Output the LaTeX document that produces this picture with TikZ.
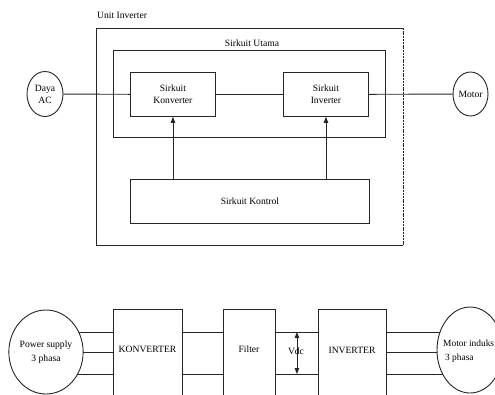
\documentclass[tikz,border=0pt]{standalone}
\usepackage{fontspec}
\setmainfont{Liberation Serif}
\usetikzlibrary{shapes.geometric,arrows.meta,backgrounds,calc}
\begin{document}
\begin{tikzpicture}[x=1bp,y=-1bp, font=\fontsize{9.6bp}{12.5bp}\selectfont,
  ln/.style={draw=black!85, line width=0.9bp},
  box/.style={ln, rectangle, inner sep=0pt, anchor=north west},
  ell/.style={ln, ellipse, inner sep=0pt, fill=white, align=center},
  arr/.style={ln, -{Triangle[length=6bp,width=4.5bp]}},
  dbl/.style={ln, {Triangle[length=6bp,width=4.5bp]}-{Triangle[length=6bp,width=4.5bp]}},
  txt/.style={inner sep=0pt, align=center}]
\useasboundingbox (0,0) rectangle (495,394);
\clip (0,0) rectangle (495,394);

% ---------- top diagram ----------
\node[rectangle, inner sep=0pt, anchor=north west, minimum width=307bp, minimum height=217bp] (unit) at (96,28) {};
\draw[ln] (unit.north east) -- (unit.north west) -- (unit.south west) -- (unit.south east);
\draw[draw=black!85, line width=0.8bp, dash pattern=on 2bp off 0.8bp] (unit.south east) -- (unit.north east);
\node[txt, anchor=west] (lblunit) at (97,15) {Unit Inverter};

\node[box, minimum width=272bp, minimum height=87bp] (utama) at (113,50) {};
\node[txt] (lblutama) at (252,43) {Sirkuit Utama};

\node[box, fill=white, minimum width=85bp, minimum height=44bp, align=center] (konv) at (130,72) {Sirkuit\\Konverter};
\node[box, fill=white, minimum width=85bp, minimum height=44bp, align=center] (inv) at (283,72) {Sirkuit\\Inverter};
\node[box, minimum width=239bp, minimum height=44bp] (ktrl) at (130,179) {Sirkuit Kontrol};

\node[ell, minimum width=36bp, minimum height=45bp, font=\fontsize{9.6bp}{12bp}\selectfont] (daya) at (45,94) {Daya\\AC};
\node[ell, minimum width=35bp, minimum height=44bp] (motor) at (470.5,94) {Motor};

\draw[ln] (daya) -- (konv);
\draw[ln] (konv) -- (inv);
\draw[ln] (inv) -- (motor);
\draw[arr] (ktrl.north -| konv.south) -- (konv.south);
\draw[arr] (ktrl.north -| inv.south) -- (inv.south);

% ---------- bottom diagram ----------
\coordinate (y1) at (0,332);
\coordinate (y2) at (0,352);
\coordinate (y3) at (0,374);

\node[ell, minimum width=68bp, minimum height=84bp, font=\fontsize{9.6bp}{14bp}\selectfont] (ps) at (46,352) {Power supply\\3 phasa};
\node[box, minimum width=69bp, minimum height=120bp] (kon) at (113,309) {};
\node[box, minimum width=52bp, minimum height=120bp] (filt) at (223,309) {};
\node[box, minimum width=68bp, minimum height=120bp] (invb) at (318,309) {};
\node[ell, minimum width=66bp, minimum height=86bp] (mi) at (470,350) {};

\node[txt] (konT) at (147.5,349) {KONVERTER};
\node[txt] (filtT) at (249,349) {Filter};
\node[txt] (invT) at (352,350) {INVERTER};
\node[txt, anchor=west, align=left, font=\fontsize{9.4bp}{14bp}\selectfont] (miT) at (443,351) {Motor induks\\\hspace*{2bp}3 phasa};

\begin{scope}[on background layer]
  \draw[ln] (ps.center |- y1) -- (kon.west |- y1);
  \draw[ln] (ps.center |- y2) -- (kon.west |- y2);
  \draw[ln] (ps.center |- y3) -- (kon.west |- y3);
  \draw[ln] (invb.east |- y1) -- (mi.center |- y1);
  \draw[ln] (invb.east |- y2) -- (mi.center |- y2);
  \draw[ln] (invb.east |- y3) -- (mi.center |- y3);
\end{scope}
\draw[ln] (kon.east |- y1) -- (filt.west |- y1);
\draw[ln] (kon.east |- y3) -- (filt.west |- y3);
\draw[ln] (filt.east |- y1) -- (invb.west |- y1);
\draw[ln] (filt.east |- y3) -- (invb.west |- y3);

\coordinate (vt) at ($(filt.east |- y1)!0.5!(invb.west |- y1)$);
\coordinate (vb) at ($(filt.east |- y3)!0.5!(invb.west |- y3)$);
\draw[dbl] (vt) -- (vb);
\node[txt] (vdc) at (296,351) {Vdc};
\end{tikzpicture}
\end{document}
